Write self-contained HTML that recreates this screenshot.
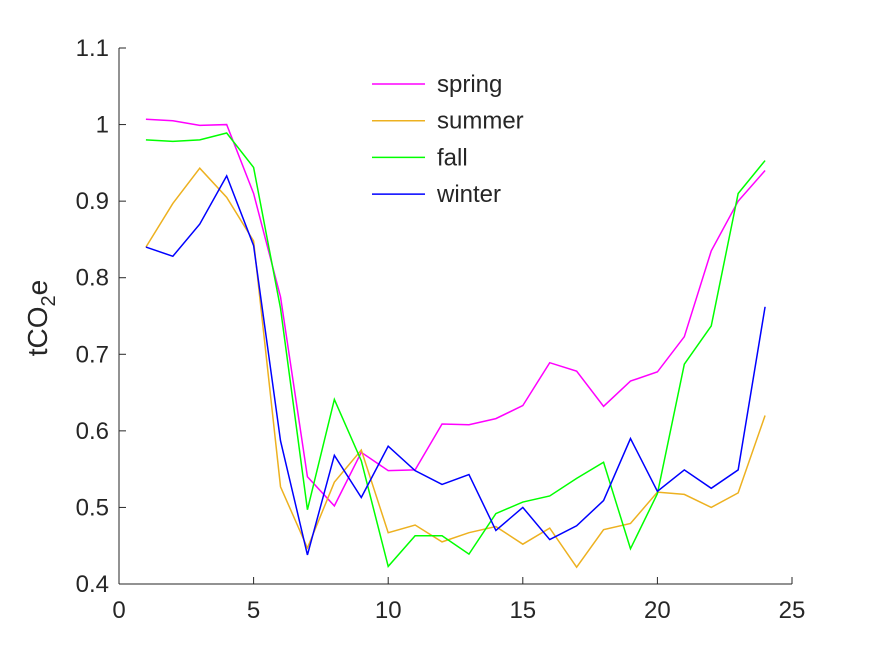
<!DOCTYPE html>
<html><head><meta charset="utf-8"><style>
body{margin:0;background:#fff;}
svg text{font-family:"Liberation Sans",sans-serif;fill:#262626;}
</style></head><body>
<svg id="chart" width="875" height="656" xmlns="http://www.w3.org/2000/svg">
<rect width="875" height="656" fill="#fff"/>
<g id="axes"></g><g id="series"></g><g id="legend"></g>
</svg>
<script>
const hours = [1,2,3,4,5,6,7,8,9,10,11,12,13,14,15,16,17,18,19,20,21,22,23,24];
const spring = [1.007,1.005,0.999,1.0,0.91,0.775,0.54,0.502,0.572,0.548,0.549,0.609,0.608,0.616,0.633,0.689,0.678,0.632,0.665,0.677,0.723,0.835,0.9,0.94];
const summer = [0.84,0.897,0.943,0.905,0.848,0.527,0.447,0.533,0.575,0.467,0.477,0.455,0.467,0.475,0.452,0.473,0.422,0.471,0.479,0.520,0.517,0.500,0.519,0.620];
const fall = [0.98,0.978,0.98,0.989,0.944,0.76,0.497,0.641,0.561,0.423,0.463,0.463,0.439,0.492,0.507,0.515,0.538,0.559,0.446,0.518,0.687,0.737,0.91,0.953];
const winter = [0.84,0.828,0.87,0.933,0.842,0.587,0.438,0.568,0.513,0.58,0.548,0.53,0.543,0.47,0.50,0.458,0.476,0.509,0.59,0.521,0.549,0.525,0.549,0.762];
const xTicks = [0,5,10,15,20,25];
const yTicks = [0.4,0.5,0.6,0.7,0.8,0.9,1,1.1];
const seriesNames = ["spring","summer","fall","winter"];
const seriesColors = ["#ff00ff","#edb120","#00ff00","#0000ff"];
const seriesData = [spring,summer,fall,winter];

const NS="http://www.w3.org/2000/svg";
const X0=119,X1=792,Y0=584,Y1=48;
const sx=v=>X0+(v-0)/(25-0)*(X1-X0);
const sy=v=>Y0-(v-0.4)/(1.1-0.4)*(Y0-Y1);
function mk(tag,attrs,parent){const e=document.createElementNS(NS,tag);for(const k in attrs)e.setAttribute(k,attrs[k]);parent.appendChild(e);return e;}
const axes=document.getElementById('axes');
let a=mk('line',{x1:X0,y1:Y0,x2:X1,y2:Y0,stroke:'#262626','stroke-width':1},axes);


a=mk('line',{x1:X0,y1:Y0,x2:X0,y2:Y1,stroke:'#262626','stroke-width':1},axes);


xTicks.forEach(t=>{
 mk('line',{x1:sx(t),y1:Y0,x2:sx(t),y2:Y0-7,stroke:'#262626'},axes);
 const tx=mk('text',{x:sx(t),y:Y0+34,'font-size':24,'text-anchor':'middle'},axes);
 tx.textContent=String(t);
 
 
});
yTicks.forEach(t=>{
 mk('line',{x1:X0,y1:sy(t),x2:X0+7,y2:sy(t),stroke:'#262626'},axes);
 const tx=mk('text',{x:X0-10,y:sy(t)+8,'font-size':24,'text-anchor':'end'},axes);
 tx.textContent=String(t);
 
 
});
const yl=mk('text',{x:0,y:0,'font-size':28,'text-anchor':'middle',transform:'translate(47,318) rotate(-90)'},axes);
yl.innerHTML='tCO<tspan dy="8" font-size="20">2</tspan><tspan dy="-8">e</tspan>';


const sg=document.getElementById('series');
seriesData.forEach((d,i)=>{
 const p=mk('polyline',{points:d.map((v,j)=>sx(hours[j])+','+sy(v)).join(' '),fill:'none',stroke:seriesColors[i],'stroke-width':1.5},sg);
 
 
});
const lg=document.getElementById('legend');
seriesNames.forEach((n,i)=>{
 const y=84+i*36.7;
 const g=mk('g',{},lg);
 
 
 mk('line',{x1:372,y1:y,x2:425,y2:y,stroke:seriesColors[i],'stroke-width':1.5},g);
 const t=mk('text',{x:437,y:y+8,'font-size':24},g);
 t.textContent=n;
});
</script>
</body></html>
